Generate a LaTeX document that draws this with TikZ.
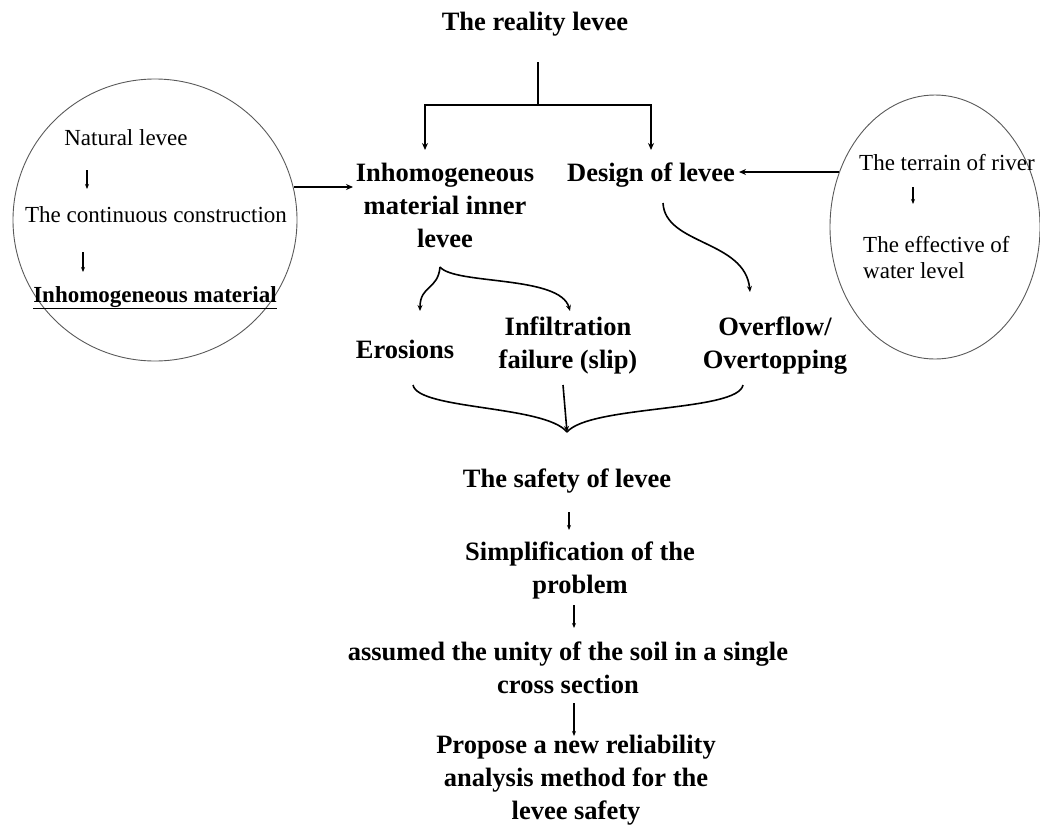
\documentclass[tikz,border=0pt]{standalone}
\usepackage{fontspec}
\setmainfont{Liberation Serif}
\usetikzlibrary{arrows.meta,shapes.geometric}
\begin{document}
\begin{tikzpicture}[x=1pt,y=-1pt,
  big/.style={font=\bfseries\fontsize{26.5}{33}\selectfont, align=center, inner sep=0pt, anchor=base},
  note/.style={font=\fontsize{23}{26}\selectfont, inner sep=0pt, anchor=base},
  conn/.style={line width=1.8pt, -{Stealth[length=7pt,width=6pt]}},
  link/.style={line width=1.8pt},
  tiny/.style={line width=1.1pt, -{Stealth[length=5pt,width=4pt]}},
  curvy/.style={line width=1.6pt, -{Stealth[length=6pt,width=5pt]}},
  ring/.style={ellipse, draw=black!65, line width=0.9pt, inner sep=0pt},
]
\useasboundingbox (0,0) rectangle (1040,825);

% side groups
\node[ring, minimum width=284pt, minimum height=282pt] (lell) at (155,220) {};
\node[ring, minimum width=210pt, minimum height=264pt] (rell) at (935,227) {};

% left group text
\node[note] (nat) at (126,145) {Natural levee};
\node[note] (cont) at (156,222) {The continuous construction};
\node[note, font=\bfseries\fontsize{23}{26}\selectfont] (inhm) at (155,302) {\underline{Inhomogeneous material}};
\coordinate (a1s) at (87,170);  \coordinate (a1e) at (87,189);
\coordinate (a2s) at (83,252);  \coordinate (a2e) at (83,272);
\draw[tiny] (a1s) -- (a1e);
\draw[tiny] (a2s) -- (a2e);

% right group text
\node[note] (terr) at (947,170) {The terrain of river};
\node[note, anchor=base west] (eff) at (863,252) {The effective of};
\node[note, anchor=base west] (wat) at (863,278) {water level};
\coordinate (a3s) at (913,187); \coordinate (a3e) at (913,204);
\draw[tiny] (a3s) -- (a3e);

% main chain (base anchor = baseline of the last line)
\node[big] (real) at (535,30) {The reality levee};
\node[big] (inh) at (445,247) {Inhomogeneous\\material inner\\levee};
\node[big] (des) at (651,181) {Design of levee};
\node[big] (ero) at (405,358) {Erosions};
\node[big] (inf) at (568,368) {Infiltration\\failure (slip)};
\node[big] (ovf) at (775,368) {Overflow/\\Overtopping};
\node[big] (saf) at (567,487) {The safety of levee};
\node[big] (simp) at (580,593) {Simplification of the\\problem};
\node[big] (ass) at (568,693) {assumed the unity of the soil in a single\\cross section};
\node[big] (prop) at (576,819) {Propose a new reliability\\analysis method for the\\levee safety};

% top split
\coordinate (rt) at (538,62);
\coordinate (sp) at (538,105);
\coordinate (inhT) at (425,150);
\coordinate (desT) at (651,150);
\draw[link] (rt) -- (sp);
\draw[conn] (sp) -| (inhT);
\draw[conn] (sp) -| (desT);

% side inputs
\coordinate (inhL) at (353,187);
\coordinate (desR) at (739,172);
\draw[conn] (lell.13 |- inhL) -- (inhL);
\draw[conn] (rell.150 |- desR) -- (desR);

% failure modes
\coordinate (pk) at (440,267);
\coordinate (eroT) at (420,311);
\coordinate (infT) at (570,311);
\coordinate (desB) at (663,203);
\coordinate (ovfT) at (750,292);
\draw[curvy] (pk) .. controls (438,290) and (420,285) .. (eroT);
\draw[curvy] (pk) .. controls (455,285) and (560,275) .. (infT);
\draw[curvy] (desB) .. controls (665,245) and (745,240) .. (ovfT);

% merge brace
\coordinate (bl) at (413,385);
\coordinate (bm) at (563,385);
\coordinate (br) at (743,385);
\coordinate (tip) at (567,432);
\draw[line width=1.6pt] (bl) .. controls (418,410) and (545,405) .. (tip);
\draw[line width=1.6pt] (br) .. controls (738,412) and (590,405) .. (tip);
\draw[curvy] (bm) -- (tip);

% lower chain
\coordinate (b1s) at (569,512); \coordinate (b1e) at (569,530);
\coordinate (b2s) at (574,605); \coordinate (b2e) at (574,628);
\coordinate (b3s) at (574,703); \coordinate (b3e) at (574,736);
\draw[tiny] (b1s) -- (b1e);
\draw[tiny] (b2s) -- (b2e);
\draw[tiny] (b3s) -- (b3e);
\end{tikzpicture}
\end{document}
